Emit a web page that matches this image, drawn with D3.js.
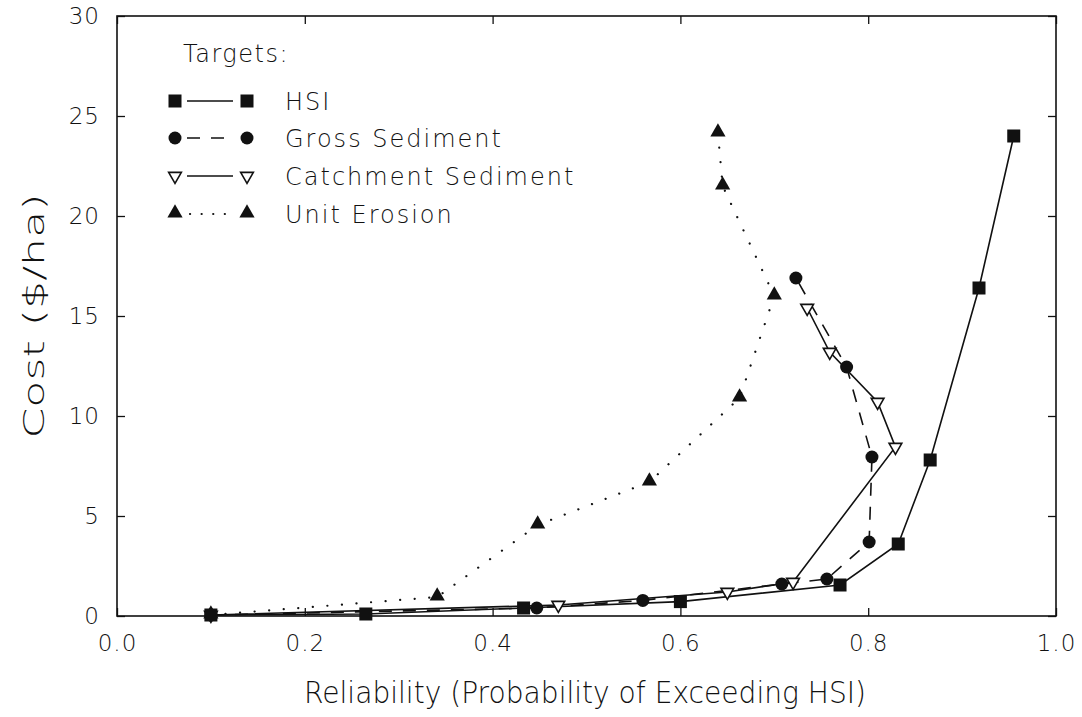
<!doctype html>
<html>
<head>
<script src="https://cdn.jsdelivr.net/npm/d3@7"></script>
<style type="text/css">
  body { margin: 0; background: #fff; }
  svg { display: block; }
  text { font-family: "DejaVu Sans", "Lato", sans-serif; font-weight: 200; fill: #111; }
</style>
</head>
<body>
<svg width="1082" height="717"></svg>
<script type="text/javascript">

// values
var hsiRel = [0.100, 0.265, 0.433, 0.600, 0.770, 0.832, 0.866, 0.918, 0.955];
var hsiCost = [0.05, 0.10, 0.40, 0.72, 1.55, 3.60, 7.80, 16.4, 24.0];

var grossRel = [0.100, 0.447, 0.560, 0.708, 0.756, 0.801, 0.804, 0.777, 0.723];
var grossCost = [0.05, 0.40, 0.78, 1.60, 1.85, 3.70, 7.95, 12.45, 16.9];

var catchRel = [0.100, 0.470, 0.650, 0.720, 0.829, 0.810, 0.759, 0.735];
var catchCost = [0.05, 0.55, 1.20, 1.70, 8.45, 10.7, 13.2, 15.4];

var erosRel = [0.100, 0.341, 0.448, 0.567, 0.663, 0.700, 0.645, 0.640];
var erosCost = [0.05, 0.95, 4.55, 6.70, 10.9, 16.0, 21.5, 24.15];

var seriesNames = ["HSI", "Gross Sediment", "Catchment Sediment", "Unit Erosion"];
var xTicks = [0, 0.2, 0.4, 0.6, 0.8, 1.0];
var yTicks = [0, 5, 10, 15, 20, 25, 30];

var svg = d3.select("svg");
var xScale = d3.scaleLinear().domain([0, 1]).range([117, 1056]);
var yScale = d3.scaleLinear().domain([0, 30]).range([616, 16]);

function pts(xs, ys) {
  return xs.map(function(x, i) { return {x: x, y: ys[i]}; });
}

// axes, ticks pointing inward
var xAxis = d3.axisBottom(xScale).tickValues(xTicks).tickFormat(d3.format(".1f"))
  .tickSizeInner(-8).tickSizeOuter(0).tickPadding(19);
var yAxis = d3.axisLeft(yScale).tickValues(yTicks).tickFormat(d3.format("d"))
  .tickSizeInner(-8).tickSizeOuter(0).tickPadding(17);
var xTop = d3.axisTop(xScale).tickValues(xTicks).tickFormat("").tickSizeInner(-8).tickSizeOuter(0);
var yRight = d3.axisRight(yScale).tickValues(yTicks).tickFormat("").tickSizeInner(-8).tickSizeOuter(0);

svg.append("g").attr("transform", "translate(0,616)").call(xAxis);
svg.append("g").attr("transform", "translate(117,0)").call(yAxis);
svg.append("g").attr("transform", "translate(0,16)").call(xTop);
svg.append("g").attr("transform", "translate(1056,0)").call(yRight);
svg.selectAll(".domain").remove();
svg.selectAll(".tick line").attr("stroke", "#111").attr("stroke-width", 1.3);
svg.selectAll(".tick text").style("font-size", "23px").style("letter-spacing", "1px").attr("fill", "#111");

svg.append("rect")
  .attr("x", 117).attr("y", 16).attr("width", 939).attr("height", 600)
  .attr("fill", "none").attr("stroke", "#111").attr("stroke-width", 1.6);

// axis titles
svg.append("text")
  .attr("x", 585).attr("y", 703).attr("text-anchor", "middle")
  .attr("textLength", 562).attr("lengthAdjust", "spacingAndGlyphs")
  .style("font-size", "30px")
  .text("Reliability (Probability of Exceeding HSI)");
svg.append("text")
  .attr("transform", "translate(44,316) rotate(-90)").attr("text-anchor", "middle")
  .attr("textLength", 245).attr("lengthAdjust", "spacingAndGlyphs")
  .style("font-size", "28px")
  .text("Cost ($/ha)");

var line = d3.line()
  .x(function(d) { return xScale(d.x); })
  .y(function(d) { return yScale(d.y); });

var series = [
  {name: seriesNames[0], data: pts(hsiRel, hsiCost), dash: null, mark: "square"},
  {name: seriesNames[1], data: pts(grossRel, grossCost), dash: "13,11", mark: "circle"},
  {name: seriesNames[2], data: pts(catchRel, catchCost), dash: null, mark: "down"},
  {name: seriesNames[3], data: pts(erosRel, erosCost), dash: "0.1,14.5", mark: "up"}
];

var downTri = d3.symbol().type(d3.symbolTriangle).size(70)();
var upTri = d3.symbol().type(d3.symbolTriangle).size(100)();

function drawMark(g, kind, cx, cy) {
  if (kind === "square") {
    g.append("rect").attr("x", cx - 6.5).attr("y", cy - 6.5)
      .attr("width", 13).attr("height", 13).attr("fill", "#111");
  } else if (kind === "circle") {
    g.append("circle").attr("cx", cx).attr("cy", cy).attr("r", 6.5).attr("fill", "#111");
  } else if (kind === "down") {
    g.append("path").attr("d", downTri)
      .attr("transform", "translate(" + cx + "," + cy + ") rotate(180)")
      .attr("fill", "#fff").attr("stroke", "#111").attr("stroke-width", 1.6);
  } else {
    g.append("path").attr("d", upTri)
      .attr("transform", "translate(" + cx + "," + (cy - 1) + ")")
      .attr("fill", "#111");
  }
}

// lines first, then markers, HSI last so it sits on top
series.forEach(function(s) {
  svg.append("path")
    .attr("d", line(s.data))
    .attr("fill", "none")
    .attr("stroke", "#111")
    .attr("stroke-width", s.mark === "up" ? 2.2 : 1.6)
    .attr("stroke-linecap", s.mark === "up" ? "round" : "butt")
    .attr("stroke-dasharray", s.dash);
});
series.slice().reverse().forEach(function(s) {
  var g = svg.append("g");
  s.data.forEach(function(d) { drawMark(g, s.mark, xScale(d.x), yScale(d.y)); });
});

// legend
var legend = svg.append("g");
legend.append("text").attr("x", 183).attr("y", 62)
  .style("font-size", "24px").style("letter-spacing", "1.5px").text("Targets:");
var rowY = [101, 138, 176, 214];
series.forEach(function(s, i) {
  var y = rowY[i];
  legend.append("line")
    .attr("x1", s.mark === "up" ? 190 : 187).attr("x2", 233)
    .attr("y1", y).attr("y2", y)
    .attr("stroke", "#111")
    .attr("stroke-width", s.mark === "up" ? 2.2 : 1.6)
    .attr("stroke-linecap", s.mark === "up" ? "round" : "butt")
    .attr("stroke-dasharray", s.mark === "up" ? "0.1,11.5" : s.dash);
  drawMark(legend, s.mark, 175, y);
  drawMark(legend, s.mark, 247, y);
  legend.append("text").attr("x", 285).attr("y", y + 9)
    .style("font-size", "24px").style("letter-spacing", "2px").text(s.name);
});

</script>
</body>
</html>
